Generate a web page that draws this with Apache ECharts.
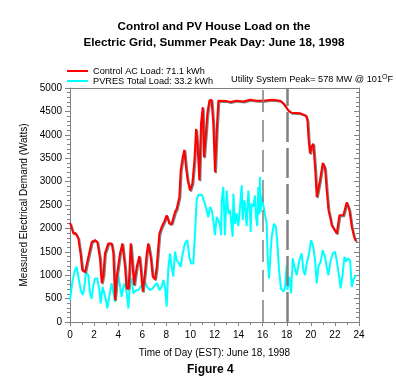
<!DOCTYPE html>
<html>
<head>
<meta charset="utf-8">
<script src="https://cdn.jsdelivr.net/npm/echarts@6/dist/echarts.min.js"></script>
<style>html,body{margin:0;padding:0;background:#fff}#c{width:396px;height:378px}</style>
</head>
<body>
<div id="c"></div>
<script>
const titleLines = ['Control and PV House Load on the', 'Electric Grid, Summer Peak Day: June 18, 1998'];
const seriesNames = ['Control AC Load: 71.1 kWh', 'PVRES Total Load: 33.2 kWh'];
const peakNote = 'Utility System Peak= 578 MW @ 101{sup|O}F';
const xName = 'Time of Day (EST): June 18, 1998';
const yName = 'Measured Electrical Demand (Watts)';
const figureLabel = 'Figure 4';
const markHours = [16, 18];

const redHours = [0.0,0.28,0.47,0.69,0.89,1.02,1.25,1.52,1.8,2.08,2.27,2.49,2.63,2.77,2.9,3.18,3.46,3.6,3.74,3.88,4.15,4.35,4.57,4.7,4.87,5.04,5.2,5.32,5.54,5.76,5.86,6.04,6.23,6.37,6.5,6.7,6.87,7.06,7.2,7.42,7.61,7.81,8.03,8.25,8.44,8.72,8.86,9.08,9.19,9.36,9.5,9.63,9.77,9.97,10.16,10.33,10.47,10.6,10.74,10.88,11.02,11.13,11.3,11.4,11.57,11.75,11.9,12.04,12.18,12.32,13.01,13.29,13.84,14.4,14.95,15.5,16.06,16.75,17.44,17.72,18.13,18.41,19.1,19.6,19.72,19.82,19.93,20.04,20.2,20.35,20.49,20.63,20.76,20.99,21.18,21.32,21.46,21.6,21.73,22.15,22.37,22.7,22.98,23.2,23.4,23.59,23.73];
const redLoad = [2120,1890,1900,1785,1430,1110,1070,1390,1710,1750,1710,1360,830,1000,1465,1680,1680,1465,470,970,1465,1680,1180,720,720,1680,1180,790,1180,1410,1180,650,1070,1465,1680,1390,970,910,1180,1890,2030,2140,2280,2100,2100,2350,2420,2670,3240,3520,3680,3310,3030,2810,2960,3450,4130,3740,3030,4240,4590,3520,4090,4450,4730,4750,4240,3200,4090,4730,4720,4700,4730,4710,4750,4730,4730,4750,4730,4670,4520,4470,4460,4410,4300,3880,3600,3740,3810,3310,2670,2630,3030,3400,3280,2810,2400,2240,2070,1890,2280,2280,2560,2390,2030,1820,1730];

const pvHours = [0.0,0.22,0.42,0.55,0.69,0.89,1.05,1.16,1.33,1.52,1.66,1.8,1.94,2.08,2.27,2.44,2.55,2.71,2.8,2.99,3.1,3.26,3.46,3.6,3.74,3.88,4.01,4.15,4.29,4.43,4.57,4.71,4.85,4.98,5.12,5.26,5.49,5.68,5.82,6.04,6.23,6.41,6.64,6.87,7.06,7.25,7.42,7.61,7.75,7.89,8.03,8.17,8.31,8.44,8.58,8.72,8.86,9.05,9.19,9.36,9.55,9.74,9.91,10.05,10.24,10.38,10.52,10.66,10.8,10.95,11.07,11.2,11.35,11.49,11.63,11.77,11.9,12.04,12.18,12.32,12.46,12.55,12.6,12.73,12.87,13.01,13.15,13.29,13.51,13.57,13.7,13.84,13.98,14.12,14.26,14.34,14.45,14.53,14.67,14.81,14.95,15.0,15.09,15.23,15.36,15.45,15.55,15.64,15.72,15.78,15.83,15.92,16.06,16.2,16.33,16.42,16.53,16.67,16.75,16.94,17.1,17.22,17.36,17.52,17.72,17.86,18.0,18.06,18.22,18.36,18.5,18.64,18.83,19.05,19.24,19.38,19.52,19.66,19.85,20.02,20.2,20.35,20.49,20.63,20.82,20.99,21.18,21.32,21.46,21.65,21.82,22.01,22.15,22.29,22.48,22.65,22.79,22.93,23.06,23.26,23.4,23.53,23.73];
const pvLoad = [470,900,1110,1180,970,680,580,680,1070,1000,610,500,790,930,930,680,400,750,790,470,290,540,830,860,430,680,1000,970,540,750,830,610,290,860,930,610,680,680,720,830,860,750,680,720,790,830,680,750,900,750,330,1180,1465,1180,970,1500,1320,1250,1180,1465,1680,1750,1390,1250,1250,1890,2600,2720,2750,2720,2680,2530,2390,2240,2460,2390,2175,1855,2245,2175,2070,1855,2600,2885,1855,2810,2320,2390,1820,2740,2100,2320,2050,2460,2920,2175,2600,2530,2050,2810,2320,1925,2530,2460,2700,2245,2050,2885,2300,3100,2350,2700,2490,2530,2100,1360,930,1535,1820,2100,2030,1680,1110,720,650,750,1215,680,970,610,1360,1180,1000,1320,1465,1110,1000,1250,1465,1750,1610,1320,825,1180,1290,1535,1390,1180,1000,1320,1465,1500,1320,1070,720,1040,1390,1290,1360,1320,750,900,1000];

const yMin = 0, yMax = 5000, yStep = 500;
const xMin = 0, xMax = 24, xStep = 2;

const FONT = '"Liberation Sans", Arial, sans-serif';
const AX = '#808080';
const chart = echarts.init(document.getElementById('c'), null, {renderer: 'canvas'});

const redData = redHours.map((h, i) => [h, redLoad[i]]);
const pvData = pvHours.map((h, i) => [h, pvLoad[i]]);

chart.setOption({
  animation: false,
  backgroundColor: '#fff',
  title: {
    text: titleLines.join('\n'),
    left: 209, top: 14, textAlign: 'center',
    textStyle: {fontFamily: FONT, fontSize: 11.7, fontWeight: 'bold', color: '#000', lineHeight: 16}
  },
  legend: {
    orient: 'vertical', left: 67, top: 66, itemGap: 0,
    itemWidth: 21, itemHeight: 2, icon: 'rect',
    data: seriesNames,
    textStyle: {fontFamily: FONT, fontSize: 9.2, color: '#000', lineHeight: 10, padding: [0,0,0,0]},
    padding: 0
  },
  grid: {left: 70, right: 37, top: 88, bottom: 56, containLabel: false},
  xAxis: [{
    type: 'value', min: xMin, max: xMax, interval: xStep,
    name: xName, nameLocation: 'middle', nameGap: 26,
    nameTextStyle: {fontFamily: FONT, fontSize: 10, color: '#000'},
    axisLine: {onZero: false, lineStyle: {color: AX, width: 1}},
    axisTick: {length: 4, lineStyle: {color: AX}},
    minorTick: {show: true, splitNumber: 2, length: 3, lineStyle: {color: AX}},
    axisLabel: {fontFamily: FONT, fontSize: 10, color: '#000', margin: 8},
    splitLine: {show: false}
  }, {
    type: 'value', position: 'top', min: xMin, max: xMax, interval: xStep,
    axisLine: {show: true, onZero: false, lineStyle: {color: AX, width: 1}},
    axisTick: {show: false}, axisLabel: {show: false}, splitLine: {show: false}
  }],
  yAxis: [{
    type: 'value', min: yMin, max: yMax, interval: yStep,
    name: yName, nameLocation: 'middle', nameGap: 41,
    nameTextStyle: {fontFamily: FONT, fontSize: 10, color: '#000'},
    axisLine: {show: true, onZero: false, lineStyle: {color: AX, width: 1}},
    axisTick: {show: true, length: 5, lineStyle: {color: AX}},
    minorTick: {show: true, splitNumber: 5, length: 3, lineStyle: {color: AX}},
    axisLabel: {fontFamily: FONT, fontSize: 10, color: '#000', margin: 8, formatter: v => String(v)},
    splitLine: {show: false}
  }, {
    type: 'value', position: 'right', min: yMin, max: yMax, interval: yStep,
    axisLine: {show: true, onZero: false, lineStyle: {color: AX, width: 1}},
    axisTick: {show: true, inside: true, length: 5, lineStyle: {color: AX}},
    minorTick: {show: true, splitNumber: 5, length: 3, lineStyle: {color: AX}},
    axisLabel: {show: false}, splitLine: {show: false}
  }],
  graphic: [
    {type: 'text', left: 231, top: 74, style: {
      text: peakNote, font: '9.2px ' + FONT, fill: '#000',
      rich: {sup: {fontSize: 7, fontFamily: FONT, verticalAlign: 'top', padding: [0, 0, 4, 0]}}
    }},
    {type: 'text', left: 187, top: 364, style: {text: figureLabel, font: 'bold 12px ' + FONT, fill: '#000'}}
  ],
  series: [
    {
      name: seriesNames[1], type: 'line', data: pvData, showSymbol: false, z: 2,
      color: '#00FFFF',
      lineStyle: {color: '#00FFFF', width: 2},
      markLine: {
        silent: true, symbol: 'none', label: {show: false},
        data: [
          {xAxis: markHours[0], lineStyle: {color: AX, width: 1.5, type: [22, 8]}},
          {xAxis: markHours[1], lineStyle: {color: AX, width: 2.5, type: [30, 6]}}
        ]
      }
    },
    {
      name: seriesNames[0], type: 'line', data: redData, showSymbol: false, z: 3,
      color: '#FF0000',
      lineStyle: {color: '#FF0000', width: 2, shadowColor: '#808080', shadowOffsetX: 1, shadowOffsetY: 1, shadowBlur: 0}
    }
  ]
});
</script>
</body>
</html>
